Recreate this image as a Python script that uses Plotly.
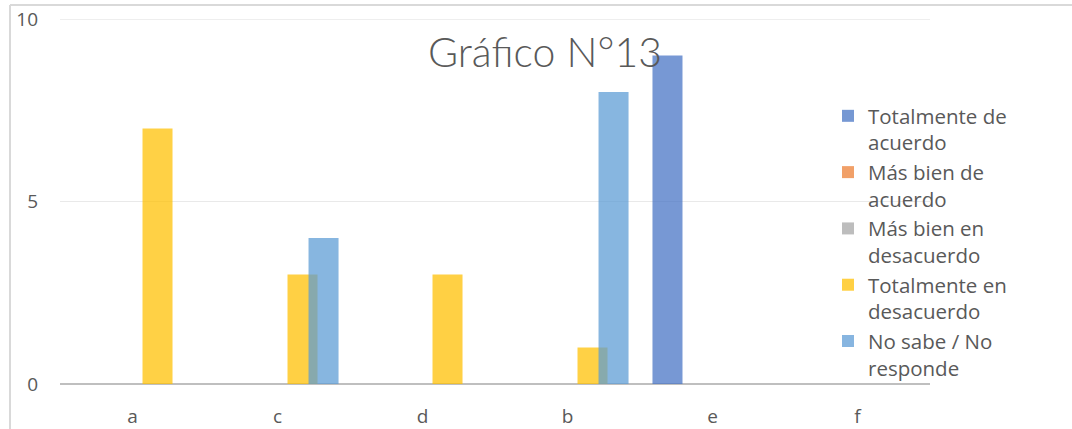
import plotly.graph_objects as go

categories = ["a", "c", "d", "b", "e", "f"]
series_names = [
    "Totalmente de<br>acuerdo",
    "Más bien de<br>acuerdo",
    "Más bien en<br>desacuerdo",
    "Totalmente en<br>desacuerdo",
    "No sabe / No<br>responde",
]
totalmente_de_acuerdo = [0, 0, 0, 0, 9, 0]
mas_bien_de_acuerdo = [0, 0, 0, 0, 0, 0]
mas_bien_en_desacuerdo = [0, 0, 0, 0, 0, 0]
totalmente_en_desacuerdo = [7, 3, 3, 1, 0, 0]
no_sabe_no_responde = [0, 4, 0, 8, 0, 0]
y_max = 10

values = [totalmente_de_acuerdo, mas_bien_de_acuerdo, mas_bien_en_desacuerdo,
          totalmente_en_desacuerdo, no_sabe_no_responde]

# style
colors = ["#4472C4", "#ED7D31", "#A5A5A5", "#FFC000", "#5B9BD5"]
offsets = [-0.414, -0.26, -0.09, 0.069, 0.214]
bar_width = 0.207
grid_col = "#e9e9e9"

fig = go.Figure()
for name, vals, col, off in zip(series_names, values, colors, offsets):
    fig.add_trace(go.Bar(
        x=categories, y=vals, name=name,
        marker=dict(color=col, line=dict(width=0)),
        opacity=0.73, offset=off, width=bar_width,
    ))

W, H = 1072, 429
L, R, T, B = 60, 142, 19, 45
pw, ph = W - L - R, H - T - B

def px_x(x):
    return (x - L) / pw

def px_y(y):
    return (H - B - y) / ph

font_family = "Open Sans"
txt_col = "#595959"

fig.update_layout(
    width=W, height=H,
    margin=dict(l=L, r=R, t=T, b=B, pad=0, autoexpand=False),
    paper_bgcolor="white", plot_bgcolor="white",
    barmode="overlay",
    showlegend=True,
    legend=dict(
        x=px_x(828), y=px_y(96), xanchor="left", yanchor="top",
        font=dict(family=font_family, size=20.5, color=txt_col),
        bgcolor="rgba(0,0,0,0)", valign="top",
        tracegroupgap=0,
    ),
    font=dict(family=font_family, color=txt_col),
)
fig.update_xaxes(
    type="category", categoryorder="array", categoryarray=categories,
    showgrid=False, showline=False, zeroline=False, automargin=False,
    ticks="", tickfont=dict(family=font_family, size=19, color=txt_col),
    ticklabelstandoff=19, ticklabeloverflow="allow",
)
fig.update_yaxes(
    range=[0, y_max], dtick=5, showgrid=True, gridcolor=grid_col, gridwidth=1,
    zeroline=True, zerolinecolor="#bfbfbf", zerolinewidth=2,
    showline=False, ticks="", automargin=False,
    tickfont=dict(family=font_family, size=19, color=txt_col),
    ticklabelstandoff=21, ticklabeloverflow="allow",
)
# top gridline at the axis maximum
fig.add_shape(type="line", xref="paper", yref="y", layer="below",
              x0=0, x1=1, y0=y_max, y1=y_max,
              line=dict(color=grid_col, width=1.5))
fig.add_annotation(
    text="Gráfico N°13", xref="paper", yref="paper",
    x=px_x(545), y=px_y(52), xanchor="center", yanchor="middle",
    showarrow=False,
    font=dict(family="Lato Light, Open Sans Light, Open Sans", size=41,
              color=txt_col, weight=300),
)
# partial chart border
fig.add_shape(type="line", xref="paper", yref="paper",
              x0=px_x(10), x1=px_x(1072), y0=px_y(5), y1=px_y(5),
              line=dict(color="#d9d9d9", width=2))
fig.add_shape(type="line", xref="paper", yref="paper",
              x0=px_x(10), x1=px_x(10), y0=px_y(5), y1=px_y(429),
              line=dict(color="#d9d9d9", width=2))

fig.write_html("out.html", config={"displayModeBar": False},
               post_script="document.body.style.margin='0';")
